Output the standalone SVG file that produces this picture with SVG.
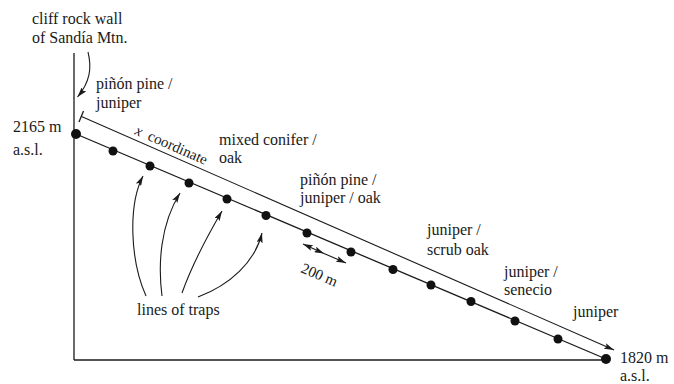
<svg xmlns="http://www.w3.org/2000/svg" width="674" height="384" viewBox="0 0 674 384">
<style>
text{font-family:'Liberation Serif','DejaVu Serif',serif;font-size:16px;fill:#1a1a1a}
.ln{stroke:#1a1a1a;stroke-width:1.3;fill:none}
.ar{stroke:#1a1a1a;stroke-width:1.1;fill:none;marker-end:url(#ah)}
.dot{fill:#111}
</style>
<defs>
<marker id="ah" viewBox="0 0 10 6" refX="10" refY="3" markerWidth="10" markerHeight="6" markerUnits="userSpaceOnUse" orient="auto-start-reverse">
<path d="M0,0 L10,3 L0,6 L2,3 Z" fill="#1a1a1a"/>
</marker>
</defs>
<rect width="674" height="384" fill="#fff"/>
<g id="connectors">
<line class="ln" x1="74" y1="53" x2="74" y2="360"/>
<line class="ln" x1="74" y1="360" x2="606" y2="360"/>
<line class="ln" x1="76" y1="134" x2="606" y2="359"/>
<line class="ln" x1="79" y1="122" x2="83.5" y2="111"/>
<line class="ar" x1="81.5" y1="116.5" x2="614" y2="350"/>
<path class="ar" d="M88,52 C92,68 90,82 77.5,97"/>
<path class="ar" d="M146,296 C130,260 128,205 143,176"/>
<path class="ar" d="M162,296 C158,265 160,225 180,193"/>
<path class="ar" d="M182,293 C192,265 205,240 222,211"/>
<path class="ar" d="M198,297 C230,285 255,262 262,233"/>
<line class="ar" x1="324" y1="253.5" x2="303" y2="244" marker-start="url(#ah)"/>
<line class="ar" x1="324" y1="253.5" x2="346" y2="263"/>
</g>
<g id="traps">
<circle class="dot" cx="76" cy="134" r="5"/>
<circle class="dot" cx="113" cy="151" r="4.5"/>
<circle class="dot" cx="150" cy="166" r="4.5"/>
<circle class="dot" cx="189" cy="183" r="4.5"/>
<circle class="dot" cx="227" cy="199" r="4.5"/>
<circle class="dot" cx="266" cy="215.5" r="4.5"/>
<circle class="dot" cx="307" cy="233" r="4.5"/>
<circle class="dot" cx="351" cy="252" r="4.5"/>
<circle class="dot" cx="393" cy="269.5" r="4.5"/>
<circle class="dot" cx="431" cy="285" r="4.5"/>
<circle class="dot" cx="471" cy="301.5" r="4.5"/>
<circle class="dot" cx="515" cy="321" r="4.5"/>
<circle class="dot" cx="558" cy="339" r="4.5"/>
<circle class="dot" cx="606" cy="359" r="5"/>
</g>
<g id="labels">
<text x="32" y="24">cliff rock wall</text>
<text x="32" y="43">of Sandía Mtn.</text>
<text x="96" y="89">piñón pine /</text>
<text x="96" y="108">juniper</text>
<text x="13" y="132">2165 m</text>
<text x="13" y="155">a.s.l.</text>
<text x="219" y="145">mixed conifer /</text>
<text x="219" y="163">oak</text>
<text x="300" y="185">piñón pine /</text>
<text x="300" y="203">juniper / oak</text>
<text x="427" y="235">juniper /</text>
<text x="427" y="255">scrub oak</text>
<text x="504" y="277">juniper /</text>
<text x="504" y="295">senecio</text>
<text x="573" y="317">juniper</text>
<text x="620" y="363">1820 m</text>
<text x="620" y="381">a.s.l.</text>
<text x="137" y="315">lines of traps</text>
<text transform="translate(300,272) rotate(23)" style="font-size:15px">200 m</text>
<text transform="translate(134,134) rotate(23.65)" style="font-size:15px"><tspan font-style="italic">x</tspan><tspan x="14">coordinate</tspan></text>
</g>
</svg>
